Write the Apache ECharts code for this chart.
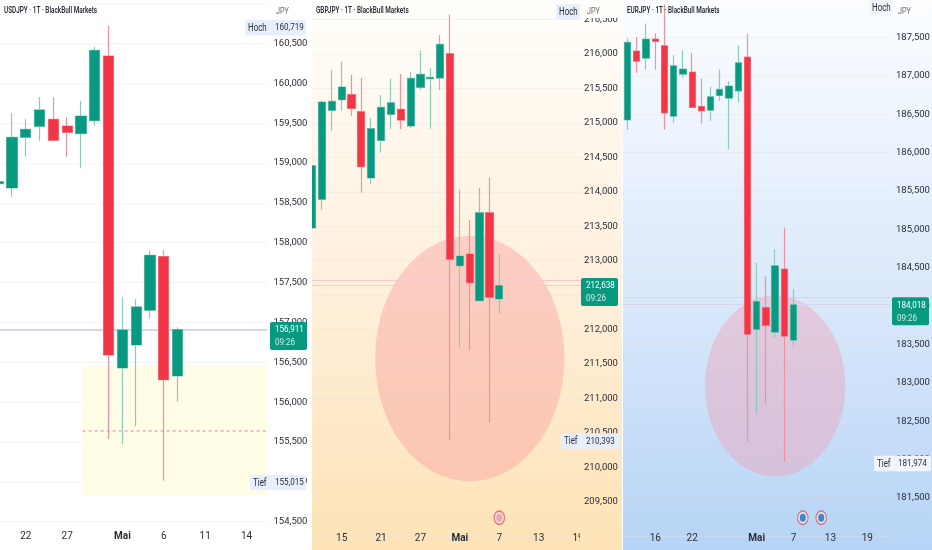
<!DOCTYPE html>
<html><head><meta charset="utf-8">
<style>html,body{margin:0;padding:0;background:#fff}#c{width:932px;height:550px}</style>
<script src="https://cdn.jsdelivr.net/npm/echarts@6/dist/echarts.min.js"></script>
</head><body><div id="c"></div>
<script>
// ---------- data: [open, close, low, high]
const usdDays = ['04-20','04-21','04-22','04-23','04-24','04-27','04-28','04-29','04-30','05-01','05-04','05-05','05-06','05-07','05-08','05-11','05-12','05-13','05-14','05-15'];
const usdTicks = ['04-22','04-27','05-01','05-06','05-11','05-14'];
const usdCandles = [
[158742,158767,158700,158800],[158687,159323,158578,159624],[159323,159423,159080,159557],
[159461,159666,159281,159829],[159549,159285,159285,159825],[159465,159385,159080,159578],
[159369,159590,158942,159779],[159532,160414,159469,160460],[160343,156592,155538,160719],
[156429,156906,155471,157316],[156717,157195,155697,157291],[157153,157843,157052,157901],
[157826,156282,155015,157905],[156328,156911,156006,156939]];
const gbpDays = ['04-10','04-13','04-14','04-15','04-16','04-17','04-20','04-21','04-22','04-23','04-24','04-27','04-28','04-29','04-30','05-01','05-04','05-05','05-06','05-07','05-08','05-11','05-12','05-13','05-14','05-15','05-18','05-19'];
const gbpTicks = ['04-15','04-21','04-27','05-01','05-07','05-13','05-19'];
const gbpCandles = [
[213474,214379,213440,214558],[213890,215303,213735,215332],[215182,215313,214887,215768],
[215337,215521,215177,215889],[215410,215211,215100,215700],[215163,214364,213987,215656],
[214200,214916,214108,215071],[214746,215226,214572,215405],[215124,215293,214911,215642],
[215197,215042,214911,215710],[214955,215647,214921,215743],[215516,215705,215487,216044],
[215642,215661,214916,215797],[215652,216140,215477,216276],[216005,213019,210393,216571],
[212926,213067,211741,214035],[213096,212680,211697,213590],[212418,213696,212418,214059],
[213696,212467,210647,214204],[212443,212638,212225,213096]];
const eurDays = ['04-13','04-14','04-15','04-16','04-17','04-20','04-21','04-22','04-23','04-24','04-27','04-28','04-29','04-30','05-01','05-04','05-05','05-06','05-07','05-08','05-11','05-12','05-13','05-14','05-15','05-18','05-19','05-20','05-21'];
const eurTicks = ['04-16','04-22','05-01','05-07','05-13','05-19'];
const eurCandles = [
[186427,187435,186293,187487],[187322,187192,187040,187509],[187231,187478,187083,187682],
[187478,187448,187083,187552],[187391,186518,186301,187934],[186475,187131,186388,187270],
[187022,187087,186975,187335],[187048,186588,186588,187300],[186601,186545,186380,186966],
[186553,186727,186414,186857],[186744,186823,186675,187083],[186710,186866,186045,186931],
[186805,187170,186657,187391],[187244,183635,182241,187543],[183696,184060,182597,184564],
[183982,183748,182727,184386],[183661,184525,183587,184742],[184482,183609,181974,185024],
[183557,184018,183470,184221]];
const usdPrice = [156911], gbpPrice = [212638, 212711], eurPrice = [184018, 184117];
const usdRange = [154500,161000], gbpRange = [209000,217000], eurRange = [181000,188000];
const usdHidden = [161000], gbpHidden = [209000,217000], eurHidden = [181000,188000];
const usdZone = {from:6.12, to:19.5, top:156466, bottom:154835, dashed:155638};
const gbpEllipse = {at:16, value:211579, rxBands:9.6, ryValue:1782};
const eurEllipse = {at:16, value:182960, rxBands:7.6, ryValue:1179};
const gbpEvents = [[19,209267]];
const eurEvents = [[19,181243],[21,181243]];
const titles = ['USDJPY · 1T · BlackBull Markets','GBPJPY · 1T · BlackBull Markets','EURJPY · 1T · BlackBull Markets'];
const tags = [
 [{v:160699,head:'Hoch',val:'160,719'},{v:154992,head:'Tief',val:'155,015'}],
 [{v:216610,head:'Hoch',val:''},{v:210381,head:'Tief',val:'210,393'}],
 [{v:187884,head:'Hoch',val:''},{v:181949,head:'Tief',val:'181,974'}]];
const priceTags = [{v:156911,a:'156,911',b:'09:26'},{v:212638,a:'212,638',b:'09:26'},{v:184018,a:'184,018',b:'09:26'}];

// ---------- style
const FONT = 'Roboto,sans-serif';
const UP='#089981', DOWN='#f23645', UPW='#8ccabb', DOWNW='#f0919e', TXT='#2a2e39';
const layout = [
 {left:-8.7, width:276, top:3.65, height:518.05, margin:6.2, xm:10},
 {left:307.2, width:275.8, top:-14.8, height:550.9, margin:1, xm:-3},
 {left:623, width:267.4, top:-0.9, height:537.3, margin:5.6, xm:-3}];
const sets = [
 {days:usdDays,ticks:usdTicks,c:usdCandles,range:usdRange,hide:usdHidden,lines:usdPrice},
 {days:gbpDays,ticks:gbpTicks,c:gbpCandles,range:gbpRange,hide:gbpHidden,lines:gbpPrice},
 {days:eurDays,ticks:eurTicks,c:eurCandles,range:eurRange,hide:eurHidden,lines:eurPrice}];
const tagBg=['#e6effb','#e6effb','#f1f6fd'];
const barW=[10.6,7.7,6.8];
const fmt=v=>String(v).replace(/(\d{3})$/,',$1');
const dayLabel=v=>v==='05-01'?'{b|Mai}':String(Number(v.slice(3)));

const grid=[],xAxis=[],yAxis=[],series=[];
sets.forEach((s,i)=>{
 const L=layout[i];
 grid.push({left:L.left,top:L.top,width:L.width,height:L.height,containLabel:false,outerBoundsMode:'none'});
 xAxis.push({type:'category',gridIndex:i,data:s.days,boundaryGap:true,
  axisLine:{show:false},axisTick:{show:false},splitLine:{show:false},
  axisLabel:{margin:L.xm,hideOverlap:false,interval:(idx,val)=>s.ticks.includes(val),color:TXT,fontFamily:FONT,fontSize:10,
   formatter:dayLabel,rich:{b:{fontWeight:'bold',fontFamily:FONT,fontSize:10,color:TXT}}}});
 yAxis.push({type:'value',gridIndex:i,position:'right',min:s.range[0],max:s.range[1],interval:500,scale:true,
  axisLine:{show:false},axisTick:{show:false},
  splitLine:{show:true,lineStyle:{color:i==0?'#f3f4f7':'rgba(230,225,220,.35)',width:1}},
  axisLabel:{margin:L.margin,align:'left',color:TXT,fontFamily:FONT,fontSize:9.5,
   formatter:v=>s.hide.includes(v)?'':fmt(v)}});
 // wick layer, then body layer drawn over it
 series.push({type:'candlestick',xAxisIndex:i,yAxisIndex:i,z:3,barWidth:barW[i],data:s.c.map(d=>d.slice()),
  itemStyle:{color:UP,color0:DOWN,borderColor:UPW,borderColor0:DOWNW,borderWidth:1.2},silent:true,
  markLine:{silent:true,symbol:'none',label:{show:false},animation:false,z:3,
   data:s.lines.map((v,k)=>({yAxis:v,lineStyle:{type:'solid',width:k==0&&i==0?2:1,color:k==0?'#d3d6f3':'#f3c8cb'}}))}});
 series.push({type:'candlestick',xAxisIndex:i,yAxisIndex:i,z:4,barWidth:barW[i],
  data:s.c.map(d=>[d[0],d[1],Math.min(d[0],d[1]),Math.max(d[0],d[1])]),
  itemStyle:{color:UP,color0:DOWN,borderColor:UP,borderColor0:DOWN,borderWidth:0},silent:true});
});

function zoneSeries(i,zone){return {type:'custom',xAxisIndex:i,yAxisIndex:i,z:1,silent:true,animation:false,
 data:[[zone.from,zone.top]],renderItem:(p,api)=>{
  const band=api.size([1,0])[0];
  const x0=api.coord([6,zone.top])[0]+(zone.from-6)*band;
  const x1=api.coord([19,zone.top])[0]+(zone.to-19)*band;
  const y0=api.coord([6,zone.top])[1],y1=api.coord([6,zone.bottom])[1],yd=api.coord([6,zone.dashed])[1];
  return {type:'group',children:[
   {type:'rect',shape:{x:x0,y:y0,width:x1-x0,height:y1-y0},style:{fill:'#fffde6'}},
   {type:'line',shape:{x1:x0,y1:yd,x2:x1,y2:yd},style:{stroke:'#dc97ba',lineWidth:1.2,lineDash:[3,3]}}]};
 }};}
function ellipseSeries(i,e,color){return {type:'custom',xAxisIndex:i,yAxisIndex:i,z:1,silent:true,animation:false,
 data:[[e.at,e.value]],renderItem:(p,api)=>{
  const c=api.coord([e.at,e.value]);
  const band=api.size([1,0])[0];
  const ry=Math.abs(api.coord([e.at,e.value+e.ryValue])[1]-c[1]);
  return {type:'ellipse',shape:{cx:c[0],cy:c[1],rx:e.rxBands*band,ry:ry},style:{fill:color}};
 }};}
series.push(zoneSeries(0,usdZone));
series.push(ellipseSeries(1,gbpEllipse,'rgba(248,160,160,.44)'));
series.push(ellipseSeries(2,eurEllipse,'rgba(240,160,180,.42)'));

function eventSeries(i,data,fill,ring,dot){return [
 {type:'scatter',xAxisIndex:i,yAxisIndex:i,z:6,silent:true,clip:false,symbol:'circle',symbolSize:[10.5,13.5],data,
  itemStyle:{color:fill,borderColor:ring,borderWidth:1.3}},
 {type:'scatter',xAxisIndex:i,yAxisIndex:i,z:7,silent:true,clip:false,symbol:'circle',symbolSize:[6,8],data,
  itemStyle:{color:dot}}];}
series.push(...eventSeries(1,gbpEvents,'#fbd3d3','#e4566e','#d9a0b8'));
series.push(...eventSeries(2,eurEvents,'#dfe9f8','#e4566e','#1f6fb8'));

sets.forEach((s,i)=>{
 const tagX=[[245,275,304],[556,586,617],[869,898,929]][i];
 const txt=(text,x,y,fill,size,sx)=>({type:'text',x,y,scaleX:sx,style:{text,x:0,y:0,fill,font:size+'px '+FONT,align:'left',verticalAlign:'middle'}});
 series.push({type:'custom',xAxisIndex:i,yAxisIndex:i,z:20,silent:true,animation:false,clip:false,
  data:tags[i].map(t=>[0,t.v]),renderItem:(p,api)=>{
   const t=tags[i][p.dataIndex], y=api.coord([0,t.v])[1];
   const isHoch=t.head==='Hoch', left=isHoch?tagX[0]:tagX[0]+5, right=t.val?tagX[2]+2:tagX[1]-6;
   return {type:'group',children:[
    {type:'rect',shape:{x:left,y:y-7.8,width:right-left,height:15.6,r:2},style:{fill:tagBg[i]}},
    txt(t.head,left+3,y+.3,TXT,11,.72),
    txt(t.val,tagX[1],y+.3,TXT,9.5,.85)]};
  }});
 series.push({type:'custom',xAxisIndex:i,yAxisIndex:i,z:21,silent:true,animation:false,clip:false,
  data:[[0,priceTags[i].v]],renderItem:(p,api)=>{
   const t=priceTags[i], y=api.coord([0,t.v])[1], x=[270,581,892][i];
   return {type:'group',children:[
    {type:'rect',shape:{x,y:y-7.5,width:37,height:28,r:2},style:{fill:UP}},
    txt(t.a,x+5,y+.5,'#fff',9.5,.85),
    txt(t.b,x+5,y+13.5,'#cfeee6',9.5,.85)]};
  }});
});

const bg2={type:'linear',x:0,y:0,x2:0,y2:1,colorStops:[{offset:0,color:'#fffefb'},{offset:.5,color:'#fff0dd'},{offset:1,color:'#fde3b6'}]};
const bg3={type:'linear',x:0,y:0,x2:0,y2:1,colorStops:[{offset:0,color:'#fbfdff'},{offset:.5,color:'#ddeafb'},{offset:1,color:'#b6d4f6'}]};
const gf=[];
gf.push({type:'rect',z:-10,shape:{x:312,y:0,width:310,height:550},style:{fill:bg2}});
gf.push({type:'rect',z:-10,shape:{x:623,y:0,width:309,height:550},style:{fill:bg3}});
gf.push({type:'rect',z:15,shape:{x:307.5,y:0,width:4.5,height:550},style:{fill:'#ffffff'}});
gf.push({type:'rect',z:15,shape:{x:580,y:530,width:5,height:20},style:{fill:'#fde4b9'}});
[[272,'#fff'],[583,'#fffdf9'],[894,'#fbfdff']].forEach(([x,f])=>{
 gf.push({type:'rect',z:30,shape:{x,y:3,width:35,height:15,r:2},style:{fill:f}});
 gf.push({type:'text',z:31,x:x+4,y:11.5,scaleX:.85,style:{text:'JPY',x:0,y:0,fill:'#6a6d78',font:'8.5px '+FONT,verticalAlign:'middle',align:'left'}});
});
[4,316,627].forEach((x,i)=>gf.push({type:'text',z:31,x,y:11,scaleX:.67,style:{text:titles[i],x:0,y:0,fill:TXT,font:'600 9.5px '+FONT,verticalAlign:'middle',align:'left'}}));

const chart=echarts.init(document.getElementById('c'),null,{renderer:'canvas'});
chart.setOption({animation:false,backgroundColor:'#ffffff',grid,xAxis,yAxis,series,graphic:{elements:gf}});
</script></body></html>
